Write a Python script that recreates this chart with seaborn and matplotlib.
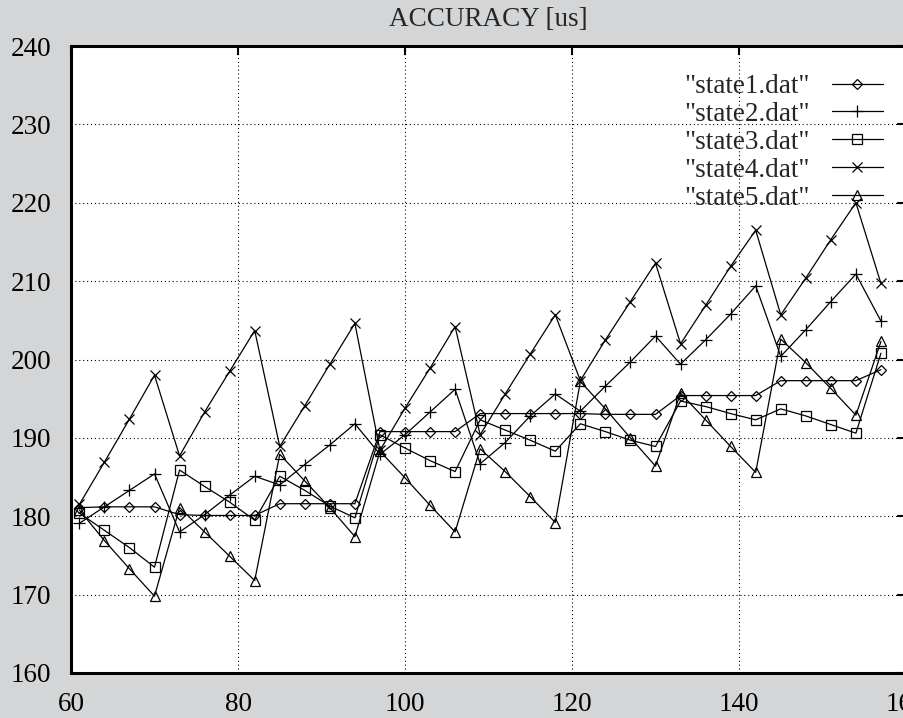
import matplotlib
matplotlib.use("Agg")
import matplotlib.pyplot as plt
import seaborn as sns
import pandas as pd

# x positions shared by every series
x_values = list(range(61, 158, 3))

state1 = [181.1, 181.2, 181.2, 181.2, 180.2, 180.1, 180.1, 180.1, 181.6, 181.6, 181.6,
          181.6, 190.8, 190.8, 190.8, 190.8, 193.1, 193.1, 193.1, 193.1, 193.1, 193.0,
          193.0, 193.0, 195.4, 195.4, 195.4, 195.4, 197.3, 197.3, 197.3, 197.3, 198.7]
state2 = [179.1, 181.2, 183.3, 185.4, 178.0, 180.2, 182.7, 185.1, 184.0, 186.6, 189.1,
          191.8, 187.9, 190.4, 193.3, 196.2, 186.7, 189.4, 192.8, 195.6, 193.4, 196.6,
          199.7, 203.0, 199.4, 202.5, 205.8, 209.4, 200.4, 203.8, 207.4, 210.9, 204.9]
state3 = [180.4, 178.2, 176.0, 173.5, 185.9, 183.8, 181.8, 179.5, 185.1, 183.3, 181.3,
          179.8, 190.4, 188.7, 187.1, 185.7, 192.3, 191.0, 189.7, 188.3, 191.8, 190.8,
          189.7, 188.9, 194.7, 194.0, 193.1, 192.3, 193.7, 192.8, 191.7, 190.6, 200.8]
state4 = [181.5, 186.9, 192.4, 198.0, 187.7, 193.3, 198.5, 203.7, 188.9, 194.1, 199.4,
          204.6, 188.4, 193.8, 198.9, 204.2, 190.4, 195.6, 200.7, 205.7, 197.3, 202.5,
          207.4, 212.3, 202.0, 206.9, 211.9, 216.5, 205.7, 210.4, 215.3, 220.0, 209.7]
state5 = [180.8, 176.9, 173.3, 169.8, 181.1, 178.0, 174.9, 171.8, 187.9, 184.5, 181.1,
          177.4, 188.3, 184.9, 181.4, 178.0, 188.6, 185.7, 182.5, 179.2, 197.2, 193.7,
          190.0, 186.4, 195.7, 192.3, 188.9, 185.6, 202.6, 199.6, 196.3, 192.9, 202.3]

series_names = ['"state1.dat"', '"state2.dat"', '"state3.dat"', '"state4.dat"', '"state5.dat"']
series_values = [state1, state2, state3, state4, state5]
series_markers = ["D", "+", "s", "x", "^"]
marker_sizes = [5.5, 8, 6.5, 7.5, 7]

x_ticks = [60, 80, 100, 120, 140, 160]
y_ticks = [160, 170, 180, 190, 200, 210, 220, 230, 240]

sns.set_style("white")
plt.rcParams["font.family"] = ["Liberation Serif", "DejaVu Serif"]

W, H = 904, 718
fig = plt.figure(figsize=(W / 100, H / 100), dpi=100, facecolor="#d3d5d7")
ax = fig.add_axes([71 / W, (H - 673) / H, 835 / W, (673 - 46) / H])
ax.set_facecolor("white")

for name, vals, mk, ms in zip(series_names, series_values, series_markers, marker_sizes):
    df = pd.DataFrame({"x": x_values, "y": vals})
    sns.lineplot(data=df, x="x", y="y", ax=ax, color="black", linewidth=0.9,
                 marker=mk, markersize=ms, markerfacecolor="none",
                 markeredgecolor="black", markeredgewidth=0.9, label=name)

ax.set_xlim(60, 160)
ax.set_ylim(160, 240)
ax.set_xticks(x_ticks)
ax.set_yticks(y_ticks)
ax.set_xlabel("")
ax.set_ylabel("")
ax.grid(True, color="black", linestyle=(0, (1, 2.5)), linewidth=0.8)
ax.tick_params(direction="in", length=6.5, width=1.5, top=True, right=True,
               labelsize=19.5, pad=14, colors="black")
for sp in ax.spines.values():
    sp.set_linewidth(2.2)
    sp.set_color("black")

fig.text(488 / W, 1 - 19 / H, "ACCURACY [us]", ha="center", va="center", fontsize=19.5)

leg = ax.legend(loc="upper right", bbox_to_anchor=(883 / W, 1 - 74 / H),
                bbox_transform=fig.transFigure, frameon=False, fontsize=19.5,
                markerfirst=False, handlelength=1.9, handletextpad=0.8,
                labelspacing=0.11, borderpad=0, borderaxespad=0, numpoints=1)

fig.savefig("out.png", dpi=100, facecolor=fig.get_facecolor())
